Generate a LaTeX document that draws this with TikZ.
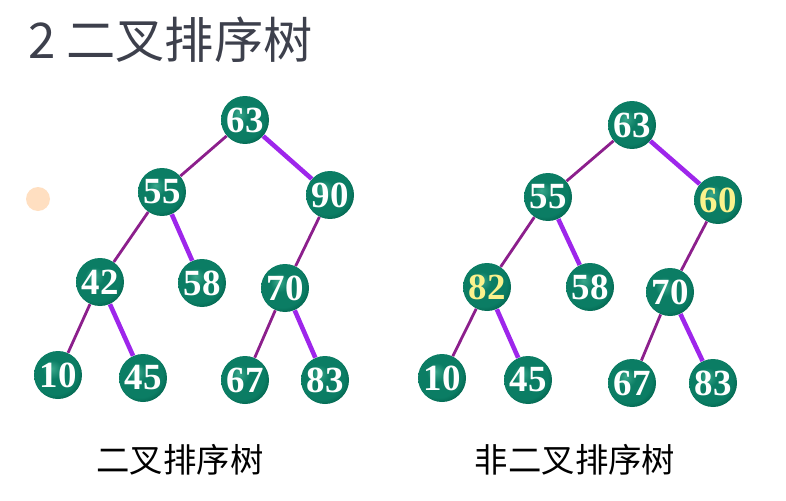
\documentclass[tikz,border=0pt]{standalone}
\usepackage{fontspec}
\setmainfont{Liberation Serif}
\newfontfamily\cjk{Noto Sans CJK SC}
\definecolor{oddyellow}{rgb}{0.98,0.95,0.55}
\definecolor{leftpurple}{rgb}{0.55,0.12,0.55}
\definecolor{rightviolet}{rgb}{0.62,0.15,0.92}
\definecolor{titlegray}{rgb}{0.24,0.25,0.30}
\definecolor{ballhi}{HTML}{3AA88C}
\definecolor{ballmid}{HTML}{0B7D64}
\definecolor{ballrim}{HTML}{005C47}
\definecolor{ballout}{HTML}{004A39}
\pgfdeclareradialshading{greenball}{\pgfpoint{-7bp}{7bp}}{%
	color(0bp)=(ballhi); color(10bp)=(ballmid); color(24bp)=(ballmid);
	color(32bp)=(ballrim); color(50bp)=(ballout)}

\begin{document}
\begin{tikzpicture}[x=0.02cm,y=-0.02cm,
	ball/.style={circle,minimum size=0.96cm,inner sep=0pt,shading=greenball,text=white,
		font=\fontsize{21}{21}\selectfont\bfseries},
	oddball/.style={ball,text=oddyellow},
	lft/.style={leftpurple,line width=1.6pt},
	rgt/.style={rightviolet,line width=2.6pt}]
	
	\useasboundingbox (0,0) rectangle (786,500);
	
	% title
	\node[anchor=west,text=titlegray,font=\cjk\fontsize{28}{28}\selectfont] (title) at (22,40) {2 二叉排序树};
	
	% cursor mark
	\fill[orange!35,opacity=0.7] (38,199) circle (12);
	
	% left tree
	\node[ball] (a63) at (245,120) {63};
	\node[ball] (a55) at (162,192) {55};
	\node[ball] (a90) at (330,195) {90};
	\node[ball] (a42) at (100,282) {42};
	\node[ball] (a58) at (202,283) {58};
	\node[ball] (a70) at (285,288) {70};
	\node[ball] (a10) at (58,375) {10};
	\node[ball] (a45) at (143,378) {45};
	\node[ball] (a67) at (245,380) {67};
	\node[ball] (a83) at (325,380) {83};
	
	\draw[lft] (a63) -- (a55);
	\draw[rgt] (a63) -- (a90);
	\draw[lft] (a55) -- (a42);
	\draw[rgt] (a55) -- (a58);
	\draw[lft] (a90) -- (a70);
	\draw[lft] (a42) -- (a10);
	\draw[rgt] (a42) -- (a45);
	\draw[lft] (a70) -- (a67);
	\draw[rgt] (a70) -- (a83);
	
	% right tree
	\node[ball] (b63) at (632,125) {63};
	\node[ball] (b55) at (548,197) {55};
	\node[oddball] (b60) at (718,200) {60};
	\node[oddball] (b82) at (487,287) {82};
	\node[ball] (b58) at (590,287) {58};
	\node[ball] (b70) at (670,292) {70};
	\node[ball] (b10) at (442,378) {10};
	\node[ball] (b45) at (528,380) {45};
	\node[ball] (b67) at (632,383) {67};
	\node[ball] (b83) at (713,383) {83};
	
	\draw[lft] (b63) -- (b55);
	\draw[rgt] (b63) -- (b60);
	\draw[lft] (b55) -- (b82);
	\draw[rgt] (b55) -- (b58);
	\draw[lft] (b60) -- (b70);
	\draw[lft] (b82) -- (b10);
	\draw[rgt] (b82) -- (b45);
	\draw[lft] (b70) -- (b67);
	\draw[rgt] (b70) -- (b83);
	
	% captions
	\node[font=\cjk\fontsize{19}{19}\selectfont] (capa) at (180,460) {二叉排序树};
	\node[font=\cjk\fontsize{19}{19}\selectfont] (capb) at (575,460) {非二叉排序树};
	
\end{tikzpicture}
\end{document}
